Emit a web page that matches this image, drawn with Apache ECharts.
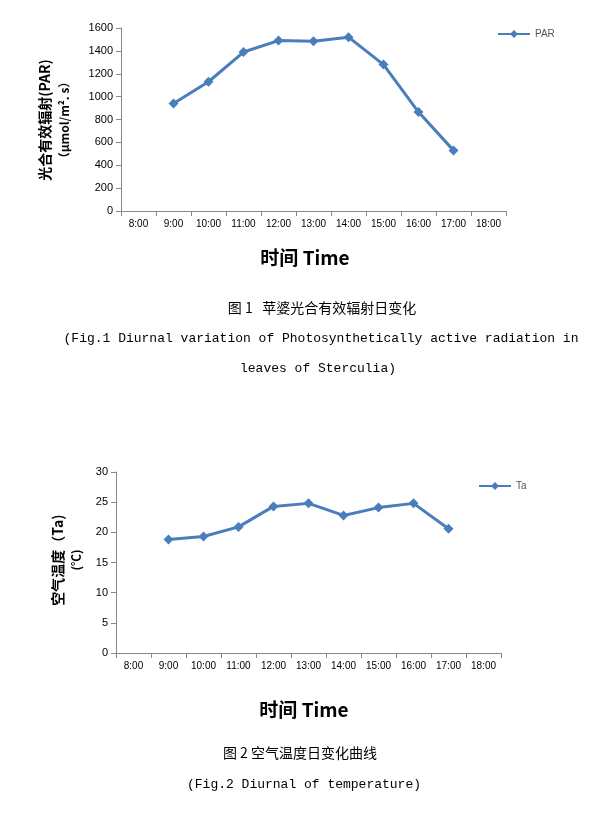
<!DOCTYPE html>
<html><head><meta charset="utf-8">
<script src="https://cdn.jsdelivr.net/npm/echarts@6/dist/echarts.min.js"></script>
<style>html,body{margin:0;background:#fff}#c{width:603px;height:813px}</style>
</head><body><div id="c"></div>
<script>
const categories = ['8:00','9:00','10:00','11:00','12:00','13:00','14:00','15:00','16:00','17:00','18:00'];
const parValues = [null,940,1130,1390,1490,1485,1520,1280,865,530,null];
const taValues = [null,18.8,19.3,20.9,24.3,24.8,22.8,24.1,24.8,20.6,null];
const parTicks = [0,200,400,600,800,1000,1200,1400,1600];
const taTicks = [0,5,10,15,20,25,30];
const col = '#4a7ebb';
const axisX = (gi) => ({gridIndex:gi,type:'category',data:categories,boundaryGap:true,
  axisLine:{lineStyle:{color:'#888'}},axisTick:{show:true,alignWithLabel:false,lineStyle:{color:'#888'}},
  axisLabel:{color:'#000',fontSize:10,fontFamily:'Arial'}});
const axisY = (gi,ticks) => ({gridIndex:gi,type:'value',min:ticks[0],max:ticks[ticks.length-1],interval:ticks[1]-ticks[0],
  axisLine:{show:true,lineStyle:{color:'#888'}},axisTick:{show:true,lineStyle:{color:'#888'}},splitLine:{show:false},
  axisLabel:{color:'#000',fontSize:11,fontFamily:'Arial',formatter:v=>String(v)}});
const t = (x,y,text,font) => ({type:'text',x,y,style:{text,font,fill:'#000',textAlign:'center',textVerticalAlign:'middle'}});
const rt = (x,y,text,font) => ({type:'text',x,y,rotation:Math.PI/2,style:{text,font,fill:'#000',textAlign:'center',textVerticalAlign:'middle'}});
const chart = echarts.init(document.getElementById('c'));
chart.setOption({
  animation:false,
  grid:[{left:121,top:28,width:385,height:183},{left:116,top:472,width:385,height:181}],
  xAxis:[axisX(0),axisX(1)],
  yAxis:[axisY(0,parTicks),axisY(1,taTicks)],
  legend:[{data:['PAR'],left:492,top:24,itemWidth:32,itemHeight:10,textStyle:{fontSize:10,fontFamily:'Arial'}},
          {data:['Ta'],left:473,top:476,itemWidth:32,itemHeight:10,textStyle:{fontSize:10,fontFamily:'Arial'}}],
  series:[
    {name:'PAR',type:'line',xAxisIndex:0,yAxisIndex:0,data:parValues,symbol:'diamond',symbolSize:10,lineStyle:{color:col,width:3},itemStyle:{color:col}},
    {name:'Ta',type:'line',xAxisIndex:1,yAxisIndex:1,data:taValues,symbol:'diamond',symbolSize:10,lineStyle:{color:col,width:3},itemStyle:{color:col}}
  ],
  graphic:[
    rt(45,120,'光合有效辐射(PAR)','bold 14px "Noto Sans CJK SC"'),
    rt(64,120,'（μmol/m². s）','bold 12px "Noto Sans CJK SC"'),
    t(305,258,'时间 Time','bold 19px "Noto Sans CJK SC"'),
    t(322,308,'图 1   苹婆光合有效辐射日变化','14px "Noto Sans CJK SC"'),
    t(321,339,'(Fig.1 Diurnal variation of Photosynthetically active radiation in','13px "Liberation Mono"'),
    t(318,369,'leaves of Sterculia)','13px "Liberation Mono"'),
    rt(58,560,'空气温度（Ta)','bold 14px "Noto Sans CJK SC"'),
    rt(76,560,'(℃)','bold 12px "Noto Sans CJK SC"'),
    t(304,710,'时间 Time','bold 19px "Noto Sans CJK SC"'),
    t(300,753,'图 2 空气温度日变化曲线','14px "Noto Sans CJK SC"'),
    t(304,785,'(Fig.2 Diurnal of temperature)','13px "Liberation Mono"')
  ]
});
</script></body></html>
